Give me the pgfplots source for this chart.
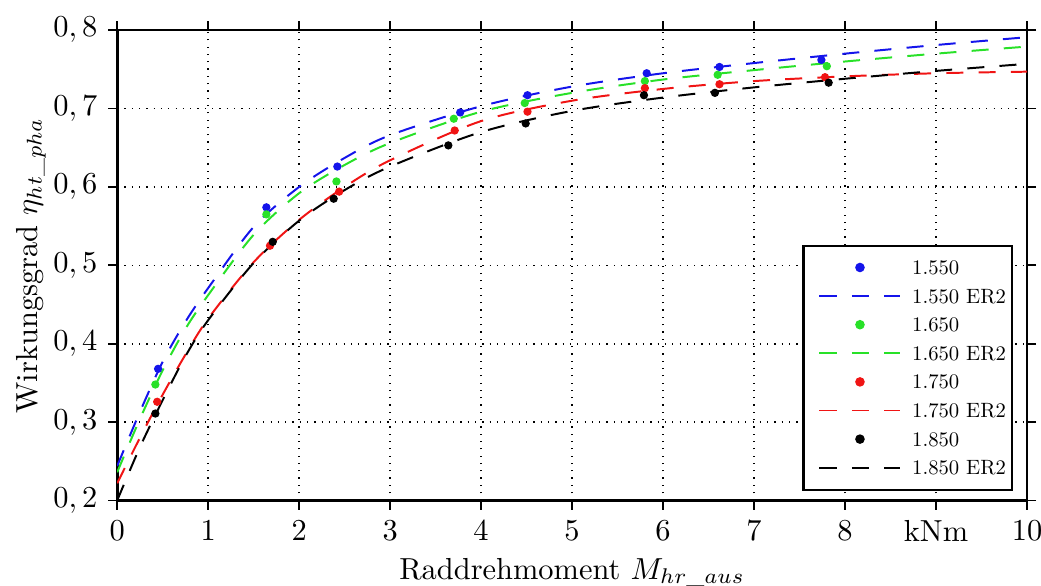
\documentclass[border=0pt]{standalone}
\usepackage{pgfplots}
\pgfplotsset{compat=1.18}
\definecolor{cblue}{RGB}{20,20,235}
\definecolor{cgreen}{RGB}{40,225,40}
\definecolor{cred}{RGB}{240,20,20}
\definecolor{cblack}{RGB}{0,0,0}
\newcommand{\us}{\mbox{\scriptsize\_}}
\newcommand{\lgd}[1]{\scalebox{0.68}{#1}}
\begin{document}
\begin{tikzpicture}
\begin{axis}[
  scale only axis,
  width=299pt, height=154.6pt,
  xmin=0, xmax=10, ymin=0.2, ymax=0.8,
  xtick={0,1,2,3,4,5,6,7,8,9,10},
  xticklabels={$0$,$1$,$2$,$3$,$4$,$5$,$6$,$7$,$8$,kNm,$10$},
  ytick={0.2,0.3,0.4,0.5,0.6,0.7,0.8},
  yticklabels={{$0,2$},{$0,3$},{$0,4$},{$0,5$},{$0,6$},{$0,7$},{$0,8$}},
  tick label style={font=\normalsize},
  tick align=outside,
  major tick length=3pt,
  tick style={black, line width=0.6pt},
  axis line style={line width=0.9pt},
  grid=major,
  major grid style={black, dotted, line width=0.5pt},
  xlabel={Raddrehmoment $M_{hr\us aus}$},
  ylabel={Wirkungsgrad $\eta_{ht\us pha}$},
  xlabel style={at={(axis description cs:0.5,-0.167)}, anchor=base},
  ylabel style={at={(axis description cs:-0.088,0.5)}, anchor=base, rotate=0},
  label style={font=\normalsize},
  legend style={at={(rel axis cs:0.9846,0.021)}, anchor=south east, draw=black, line width=0.7pt,
    row sep=1.8pt, inner xsep=0.5pt, inner ysep=3.4pt,
    nodes={inner xsep=1.5pt, inner ysep=1.5pt, text height=4.6pt, text depth=0pt}},
  legend cell align=left,
  legend image code/.code={\path (0pt,0pt) (33pt,0pt); \draw[#1, line width=0.65pt] (4.4pt,0pt) -- (31pt,0pt);},
]
\pgfplotsset{
  dot/.style={only marks, mark=*, mark size=1.15pt, mark options={draw=none}, legend image code/.code={\path (0pt,0pt) (33pt,0pt); \fill[##1] (17.7pt,0pt) circle (1.2pt);}},
  er/.style={smooth, line width=0.65pt, dash pattern=on 5.6pt off 5pt, mark=none},
}
\addplot[dot, cblue] coordinates {(0.45,0.368) (1.64,0.574) (2.42,0.626) (3.77,0.695) (4.51,0.717) (5.82,0.745) (6.62,0.753) (7.74,0.762)};
\addlegendentry{\lgd{1.550}}
\addplot[er, cblue] coordinates {(0,0.244) (0.25,0.313) (0.5,0.377) (0.75,0.428) (1,0.471) (1.5,0.549) (2,0.600) (2.5,0.637) (3,0.666) (4,0.703) (5,0.728) (6,0.745) (7,0.758) (8,0.770) (9,0.781) (10,0.791)};
\addlegendentry{\lgd{1.550 ER2}}
\addplot[dot, cgreen] coordinates {(0.42,0.348) (1.64,0.565) (2.41,0.607) (3.70,0.687) (4.48,0.707) (5.80,0.735) (6.60,0.743) (7.80,0.754)};
\addlegendentry{\lgd{1.650}}
\addplot[er, cgreen] coordinates {(0,0.236) (0.25,0.304) (0.5,0.366) (0.75,0.419) (1,0.462) (1.5,0.539) (2,0.592) (2.5,0.628) (3,0.656) (4,0.696) (5,0.720) (6,0.737) (7,0.749) (8,0.760) (9,0.770) (10,0.779)};
\addlegendentry{\lgd{1.650 ER2}}
\addplot[dot, cred] coordinates {(0.44,0.326) (1.68,0.525) (2.44,0.594) (3.71,0.672) (4.51,0.696) (5.80,0.726) (6.62,0.731) (7.78,0.740)};
\addlegendentry{\lgd{1.750}}
\addplot[er, cred] coordinates {(0,0.222) (0.25,0.280) (0.5,0.335) (0.75,0.386) (1,0.432) (1.5,0.504) (2,0.558) (2.5,0.600) (3,0.634) (4,0.684) (5,0.710) (6,0.725) (7,0.735) (8,0.741) (9,0.745) (10,0.747)};
\addlegendentry{\lgd{1.750 ER2}}
\addplot[dot, cblack] coordinates {(0.42,0.311) (1.71,0.530) (2.38,0.585) (3.64,0.653) (4.49,0.681) (5.79,0.717) (6.57,0.720) (7.82,0.733)};
\addlegendentry{\lgd{1.850}}
\addplot[er, cblack] coordinates {(0,0.200) (0.25,0.268) (0.5,0.328) (0.75,0.384) (1,0.430) (1.5,0.503) (2,0.557) (2.5,0.596) (3,0.626) (4,0.670) (5,0.697) (6,0.714) (7,0.727) (8,0.738) (9,0.748) (10,0.757)};
\addlegendentry{\lgd{1.850 ER2}}
\end{axis}
\pgfresetboundingbox
\path ([shift={(-38.5pt,-28pt)}]current axis.south west) rectangle ([shift={(4.6pt,9.9pt)}]current axis.north east);
\end{tikzpicture}
\end{document}
